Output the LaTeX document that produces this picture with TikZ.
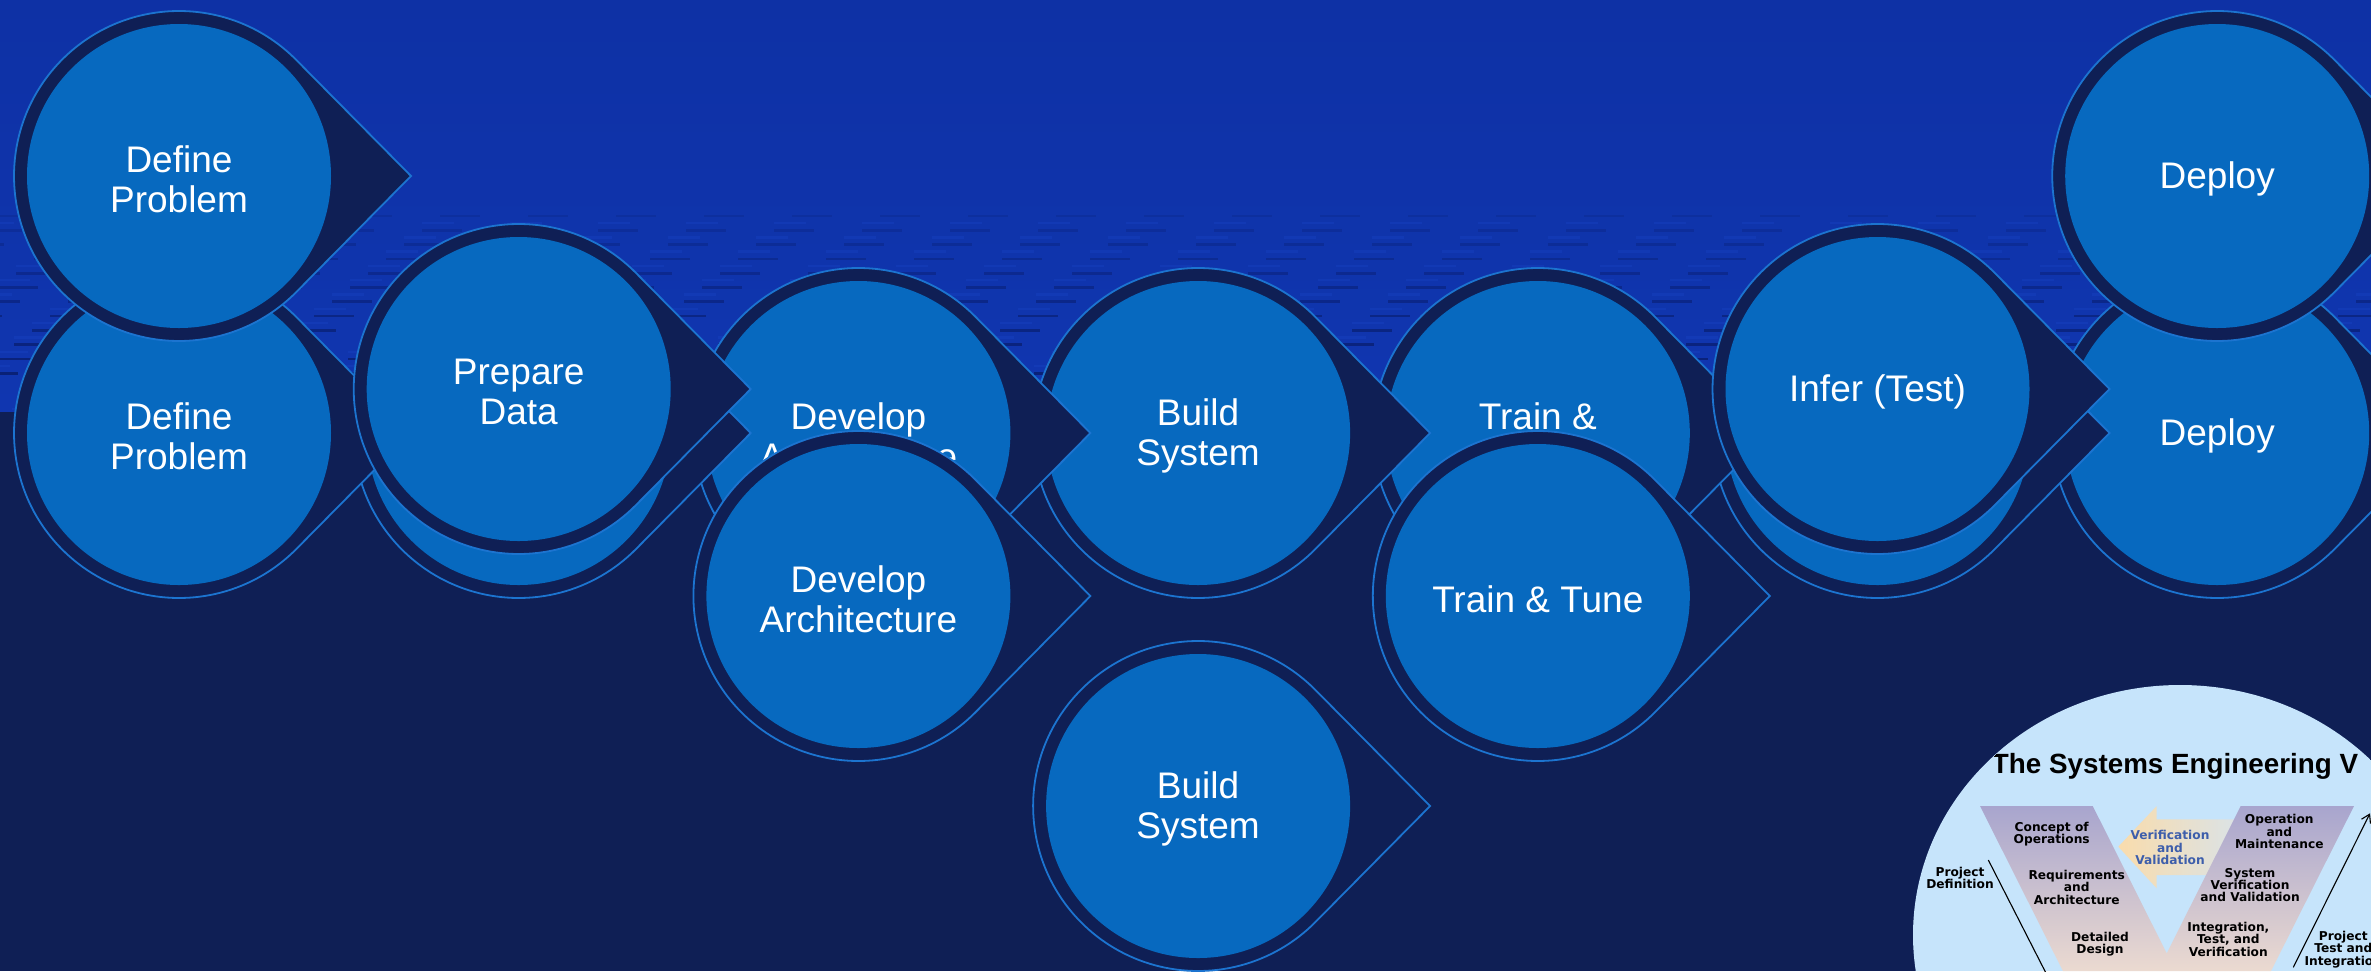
\documentclass[tikz,border=0pt]{standalone}
\usepackage{fontspec}
\setmainfont{Liberation Sans}
\newfontfamily\vfont{DejaVu Sans}
\usetikzlibrary{arrows.meta}
\definecolor{topblue}{HTML}{0E31A5}
\definecolor{topblueB}{HTML}{1036B0}
\definecolor{navy}{HTML}{0F1F55}
\definecolor{dashdark}{HTML}{081C6A}
\definecolor{dashlight}{HTML}{1A45C5}
\definecolor{coreblue}{HTML}{0769BF}
\definecolor{edgeblue}{HTML}{1C74D0}
\definecolor{ellblue}{HTML}{C6E4FB}
\definecolor{vtop}{HTML}{A8A5CE}
\definecolor{vbot}{HTML}{EBDAD0}
\definecolor{arrL}{HTML}{F9DCAC}
\definecolor{arrR}{HTML}{D9E3EA}
\definecolor{vvtext}{HTML}{3D5EAB}
% #1 x, #2 y (downwards, px), #3 name, #4 text
\newcommand\bub[4]{%
  \filldraw[ring] (#1+232,-#2) -- (#1+117.35,-#2+116.0)
     arc[start angle=44.67,end angle=315.33,radius=82.5pt] -- cycle;
  \fill[core] (#1,-#2) circle[radius=76pt];
  \node[lbl] (#3) at (#1,-#2) {#4};
}
% shape whose text is fully covered (no text drawn)
\newcommand\bubplain[3]{%
  \filldraw[ring] (#1+232,-#2) -- (#1+117.35,-#2+116.0)
     arc[start angle=44.67,end angle=315.33,radius=82.5pt] -- cycle;
  \fill[core] (#1,-#2) circle[radius=76pt];
  \coordinate (#3) at (#1,-#2);
}
\begin{document}
\begin{tikzpicture}[x=0.5pt,y=0.5pt,
  ring/.style={fill=navy,draw=edgeblue,line width=0.9pt,line join=miter},
  core/.style={fill=coreblue},
  lbl/.style={text=white,align=center,font=\fontsize{18.5}{20}\selectfont,inner sep=0pt,yshift=-1.5pt},
  vlbl/.style={text=black,align=center,font=\vfont\bfseries\fontsize{6.1}{6.2}\selectfont,inner sep=0pt},
  thinline/.style={draw=black,line width=0.55pt}]
\useasboundingbox (0,0) rectangle (2371,-971);
\clip (0,0) rectangle (2371,-971);
% background
\shade[top color=topblue,bottom color=topblueB] (0,0) rectangle (2371,-412);
\fill[navy] (0,-412) rectangle (2371,-971);
\foreach \j in {0,...,13}{
  \pgfmathsetmacro\yy{216+14.3*\j}
  \pgfmathsetmacro\op{0.2+0.055*\j}
  \pgfmathsetmacro\ph{mod(\j*53,44)}
  \draw[dashdark,opacity=\op,line width=1.35pt,dash pattern=on 20pt off 24pt,dash phase=\ph pt] (0,-\yy) -- (2371,-\yy);
  \draw[dashlight,opacity=0.35,line width=1.2pt,dash pattern=on 16pt off 28pt,dash phase=\ph pt+9pt] (0,-\yy-7) -- (2371,-\yy-7);
}
% base row (drawn right to left)
\bub{2217.2}{433}{deB}{Deploy}
\bubplain{1877.5}{433}{itB}
\bub{1537.8}{433}{ttB}{Train \&\\Tune}
\bub{1198.1}{433}{bsB}{Build\\System}
\bub{858.4}{433}{daB}{Develop\\Architecture}
\bubplain{518.7}{433}{pdB}
\bub{179}{433}{dpB}{Define\\Problem}
% moved copies (V arrangement)
\bub{179}{176}{dpV}{Define\\Problem}
\bub{518.7}{389}{pdV}{Prepare\\Data}
\bub{858.4}{596}{daV}{Develop\\Architecture}
\bub{1198.1}{806}{bsV}{Build\\System}
\bub{1537.8}{596}{ttV}{Train \& Tune}
\bub{1877.5}{389}{itV}{Infer (Test)}
\bub{2217.2}{176}{deV}{Deploy}
% systems engineering V
\begin{scope}
\clip (2180,-935) ellipse[x radius=133.5pt,y radius=125pt];
\fill[ellblue] (1900,-680) rectangle (2371,-971);
\shade[left color=arrL,right color=arrR]
  (2118.3,-846.7) -- (2156.7,-806) -- (2156.7,-819.3) -- (2245,-819.3)
  -- (2245,-875) -- (2156.7,-875) -- (2156.7,-888.3) -- cycle;
\shade[top color=vtop,bottom color=vbot]
  (1980,-806) -- (2092.7,-806) -- (2166.7,-953.3) -- (2240.7,-806)
  -- (2354,-806) -- (2271,-971) -- (2062.9,-971) -- cycle;
\node[text=black,font=\bfseries\fontsize{13.9}{15}\selectfont,inner sep=0pt] (title) at (2175,-766) {The Systems Engineering V};
\node[vlbl,text=vvtext] (vv) at (2170,-847.7) {Verification\\and\\Validation};
\node[vlbl] (conops) at (2051.7,-834.3) {Concept of\\Operations};
\node[vlbl] (req) at (2076.7,-887.3) {Requirements\\and\\Architecture};
\node[vlbl] (det) at (2100,-944.3) {Detailed\\Design};
\node[vlbl] (om) at (2279.3,-831.7) {Operation\\and\\Maintenance};
\node[vlbl] (svv) at (2250,-885) {System\\Verification\\and Validation};
\node[vlbl] (itv) at (2228.3,-939.3) {Integration,\\Test, and\\Verification};
\node[vlbl] (pdef) at (1960,-878) {Project\\Definition};
\node[vlbl] (ptest) at (2343.3,-949.3) {Project\\Test and\\Integration};
\coordinate (l1a) at (1988.3,-860);
\coordinate (l1b) at (2050,-981);
\coordinate (l2a) at (2293.3,-967.3);
\coordinate (l2b) at (2370,-813.3);
\draw[thinline] (l1a) -- (l1b);
\draw[thinline,-{Straight Barb[length=4pt,width=5pt]}] (l2a) -- (l2b);
\end{scope}
\end{tikzpicture}
\end{document}
